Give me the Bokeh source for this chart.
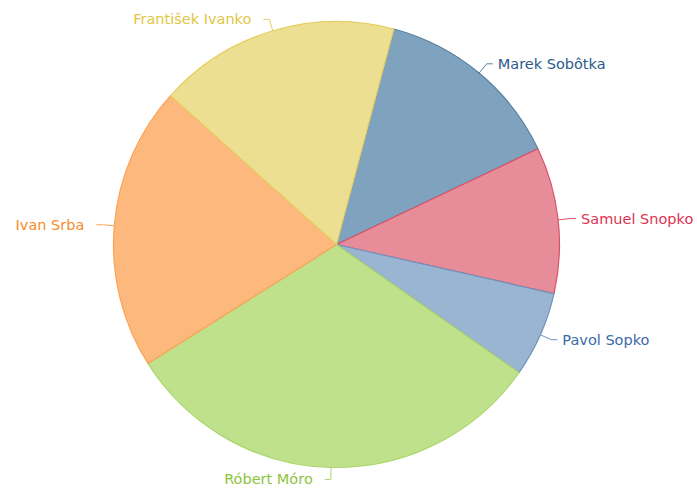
import math
from bokeh.plotting import figure
from bokeh.models import Range1d, ColumnDataSource
from bokeh.core.properties import value
from bokeh.embed import file_html
from bokeh.resources import INLINE

# ---- data (clockwise from first slice) ----
names = ["Marek Sobôtka", "Samuel Snopko", "Pavol Sopko", "Róbert Móro", "Ivan Srba", "František Ivanko"]
shares = [13.8, 10.6, 6.2, 31.3, 20.6, 17.5]
fills = ["#7fa2be", "#e78d9a", "#9ab5d1", "#c0e18c", "#fdb97d", "#ecdf92"]
strokes = ["#55809f", "#dc5068", "#6f93bd", "#aad56c", "#fca254", "#e4d064"]
label_colors = ["#2b5b8c", "#dc3352", "#3b6ba6", "#8cc43c", "#f88b2c", "#e2c642"]
start_deg = 14.9  # first boundary, clockwise from 12 o'clock

W, H = 697, 489
CX, CY = 336, 244  # pie center in px from plot's top-left
R = 223

p = figure(width=W, height=H, output_backend="svg", toolbar_location=None,
           x_range=Range1d(-CX, W - CX), y_range=Range1d(-(H - CY), CY),
           min_border=0, outline_line_color=None)
p.axis.visible = False
p.grid.visible = False
p.background_fill_color = "white"
p.border_fill_color = "white"

total = sum(shares)
cum = start_deg
starts, ends, mids = [], [], []
for s in shares:
    a0 = cum
    a1 = cum + s / total * 360.0
    starts.append(math.radians(90 - a0))
    ends.append(math.radians(90 - a1))
    mids.append((a0 + a1) / 2.0)
    cum = a1

src = ColumnDataSource(dict(start=starts, end=ends, fill=fills, line=strokes))
p.wedge(x=0, y=0, radius=R, start_angle="start", end_angle="end", direction="clock",
        fill_color="fill", line_color="line", line_width=1.2, source=src)

font = value("DejaVu Sans")
for name, m, lc, tc in zip(names, mids, strokes, label_colors):
    rad = math.radians(m)
    sx, sy = math.sin(rad), math.cos(rad)
    x0, y0 = R * sx, R * sy
    x1, y1 = (R + 12) * sx, (R + 12) * sy
    right = sx >= 0
    x2 = x1 + (6 if right else -6)
    p.line([x0, x1, x2], [y0, y1, y1], line_color=lc, line_width=1)
    tx = x2 + (5 if right else -12)
    p.text(x=[tx], y=[y1], text=[name], text_font=font, text_font_size="14.5px",
           text_color=tc, text_align="left" if right else "right",
           text_baseline="middle")

open("out.html", "w").write(file_html(p, INLINE))
